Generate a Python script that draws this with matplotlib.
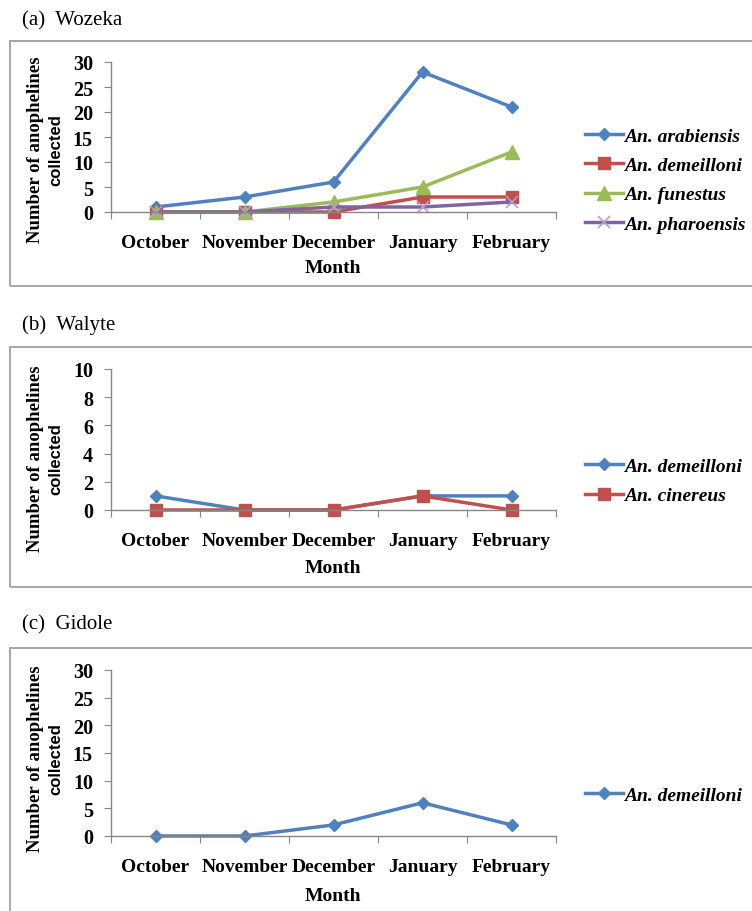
import matplotlib
matplotlib.use('Agg')
import matplotlib.pyplot as plt
from matplotlib.patches import Rectangle
from matplotlib.font_manager import FontProperties

months = ['October', 'November', 'December', 'January', 'February']

# (a) Wozeka
wozeka_arabiensis = [1, 3, 6, 28, 21]
wozeka_demeilloni = [0, 0, 0, 3, 3]
wozeka_funestus = [0, 0, 2, 5, 12]
wozeka_pharoensis = [0, 0, 1, 1, 2]

# (b) Walyte
walyte_demeilloni = [1, 0, 0, 1, 1]
walyte_cinereus = [0, 0, 0, 1, 0]

# (c) Gidole
gidole_demeilloni = [0, 0, 2, 6, 2]

BLUE = '#4F81BD'
RED = '#C0504D'
GREEN = '#9BBB59'
PURPLE = '#8064A2'
AXCOL = '#868686'

W, H = 752, 912
fig = plt.figure(figsize=(W / 100, H / 100), dpi=100)

serif = 'Liberation Serif'
legfont = FontProperties(family=serif, weight='bold', style='italic', size=14)


def px_axes(left, right, top, bottom):
    return fig.add_axes([left / W, 1 - bottom / H, (right - left) / W, (bottom - top) / H])


def panel(title, title_y, box_top, box_bot, ax_top, ax_bot, ymax, ystep,
          series, leg_y, ylab_y, tick_y, month_y):
    fig.add_artist(Rectangle((10 / W, 1 - box_bot / H), (W + 20) / W, (box_bot - box_top) / H,
                             transform=fig.transFigure, fill=False, edgecolor='#A6A6A6',
                             linewidth=1.4, clip_on=False))
    fig.text(22 / W, 1 - title_y / H, title, family=serif, fontsize=15, va='center', ha='left')

    ax = px_axes(111, 556, ax_top, ax_bot)
    x = range(len(months))
    for vals, col, mk, ms, lab in series:
        if mk == 'x':
            ax.plot(x, vals, color=col, lw=2.5, marker='x', ms=9, mew=1.2,
                    mec='#B3A2C7', label=lab, clip_on=False)
        else:
            ax.plot(x, vals, color=col, lw=2.5, marker=mk, ms=ms, label=lab, clip_on=False)

    ax.set_xlim(-0.5, len(months) - 0.5)
    ax.set_ylim(0, ymax)
    ax.set_yticks(range(0, ymax + 1, ystep))
    ax.set_xticks([i - 0.5 for i in range(len(months) + 1)])
    ax.set_xticklabels([])
    ax.tick_params(axis='x', length=5, color=AXCOL, direction='out')
    ax.tick_params(axis='y', length=5, color=AXCOL, direction='out', pad=8)
    for t in ax.get_yticklabels():
        t.set_fontfamily(serif)
        t.set_fontweight('bold')
        t.set_fontsize(14.5)
    for s in ['top', 'right']:
        ax.spines[s].set_visible(False)
    for s in ['left', 'bottom']:
        ax.spines[s].set_color(AXCOL)
        ax.spines[s].set_linewidth(1)
    ax.patch.set_alpha(0)

    for i, m in enumerate(months):
        cx = 111 + (556 - 111) * (i + 0.5) / len(months)
        fig.text(cx / W, 1 - tick_y / H, m, family=serif, fontweight='bold', fontsize=14,
                 ha='center', va='center')
    fig.text(333 / W, 1 - month_y / H, 'Month', family=serif, fontweight='bold', fontsize=14,
             ha='center', va='center')
    fig.text(36 / W, 1 - ylab_y / H, 'Number of anophelines', family=serif, fontweight='bold',
             fontsize=13.5, rotation=90, ha='center', va='center')
    fig.text(56 / W, 1 - ylab_y / H, 'collected', family='Liberation Sans', fontweight='bold',
             fontsize=12, rotation=90, ha='center', va='center')

    ax.legend(loc='center left', bbox_to_anchor=(585 / W, 1 - leg_y / H),
              bbox_transform=fig.transFigure, frameon=False, borderpad=0, borderaxespad=0,
              handlelength=1.95, handletextpad=0.05, labelspacing=0.6, prop=legfont)
    return ax


panel('(a)  Wozeka', 21, 42, 287, 63, 213, 30, 5,
      [(wozeka_arabiensis, BLUE, 'D', 6.5, 'An. arabiensis'),
       (wozeka_demeilloni, RED, 's', 9, 'An. demeilloni'),
       (wozeka_funestus, GREEN, '^', 9.5, 'An. funestus'),
       (wozeka_pharoensis, PURPLE, 'x', 9, 'An. pharoensis')],
      181, 150, 243, 269)

panel('(b)  Walyte', 325, 348, 588, 370, 511, 10, 2,
      [(walyte_demeilloni, BLUE, 'D', 6.5, 'An. demeilloni'),
       (walyte_cinereus, RED, 's', 9, 'An. cinereus')],
      482, 459, 542, 569)

panel('(c)  Gidole', 625, 649, 930, 671, 837, 30, 5,
      [(gidole_demeilloni, BLUE, 'D', 6.5, 'An. demeilloni')],
      796, 759, 868, 897)

fig.savefig('out.png', dpi=100)
